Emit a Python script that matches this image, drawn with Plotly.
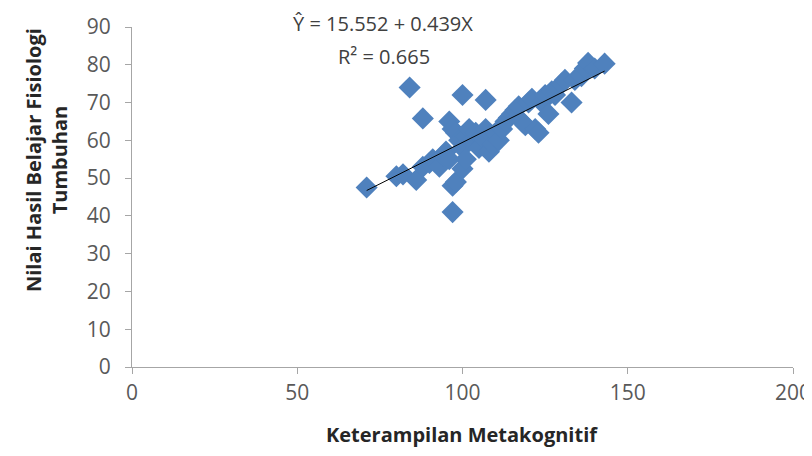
import plotly.graph_objects as go

x_vals = [71, 80, 82, 86, 88, 90, 91, 93, 94, 95, 96, 97, 97, 98, 96, 97, 98, 99, 100, 100,
          101, 101, 102, 103, 104, 105, 106, 107, 108, 109, 110, 111, 112, 113, 114, 115, 116,
          117, 118, 119, 120, 121, 122, 123, 124, 125, 126, 127, 128, 130, 131, 133, 134, 136,
          137, 138, 140, 143, 84, 88, 100, 107]
y_vals = [47.5, 50.5, 51, 49.5, 53, 54, 55, 53, 56, 57, 55, 48, 41, 49, 65, 63, 62, 60, 58, 52.5,
          55, 61, 63, 60, 62, 58, 61, 63, 57, 59, 62, 60, 63, 65, 66, 67, 68,
          69, 65, 64, 70, 71, 63, 62, 70, 72, 67, 73, 72, 75, 76, 70, 76, 77,
          79, 80.5, 79, 80.3, 74, 65.8, 72, 70.7]

intercept = 15.552
slope = 0.439
x_line = [min(x_vals), max(x_vals)]
y_line = [intercept + slope * v for v in x_line]

x_ticks = [0, 50, 100, 150, 200]
y_ticks = [0, 10, 20, 30, 40, 50, 60, 70, 80, 90]

FONT = "Open Sans"

fig = go.Figure()
fig.add_trace(go.Scatter(x=x_vals, y=y_vals, mode="markers",
                         marker=dict(symbol="diamond", size=17, color="#4F81BD",
                                     line=dict(width=0)),
                         showlegend=False))
fig.add_trace(go.Scatter(x=x_line, y=y_line, mode="lines",
                         line=dict(color="#000000", width=1), showlegend=False))

axis_common = dict(showgrid=False, zeroline=False, showline=True, linecolor="#A6A6A6",
                   linewidth=1, ticks="outside", tickcolor="#A6A6A6", ticklen=6,
                   automargin=False, ticklabeloverflow="allow",
                   tickfont=dict(family=FONT, size=21, color="#595959"))
fig.update_xaxes(range=[0, 200], tickvals=x_ticks, ticklabelstandoff=1, **axis_common)
fig.update_yaxes(range=[0, 90], tickvals=y_ticks, ticklabelstandoff=10, **axis_common)

PW = 661.0
PH = 340.0
X0 = 132.0
Y0 = 367.0


def px(xp):
    return (xp - X0) / PW


def py(yp):
    return (Y0 - yp) / PH


# axis titles
fig.add_annotation(xref="paper", yref="paper", x=px(462), y=py(434),
                   xanchor="center", yanchor="middle",
                   text="<b>Keterampilan Metakognitif</b>", showarrow=False,
                   font=dict(family=FONT, size=20, color="#262626"))
fig.add_annotation(xref="paper", yref="paper", x=px(46), y=py(160),
                   xanchor="center", yanchor="middle",
                   text="<b>Nilai Hasil Belajar Fisiologi<br>Tumbuhan</b>", showarrow=False,
                   textangle=-90,
                   font=dict(family=FONT, size=20, color="#262626"))

# regression equation labels
fig.add_annotation(xref="paper", yref="paper", x=px(383), y=py(23),
                   xanchor="center", yanchor="middle",
                   text="Ŷ = 15.552 + 0.439X", showarrow=False,
                   font=dict(family=FONT, size=20, color="#404040"))
fig.add_annotation(xref="paper", yref="paper", x=px(384), y=py(56),
                   xanchor="center", yanchor="middle",
                   text="R² = 0.665", showarrow=False,
                   font=dict(family=FONT, size=20, color="#404040"))

# page body adds an 8px offset; place the plot area at 132..793 x 27..367 in the window
fig.update_layout(width=804, height=440,
                  margin=dict(l=124, r=19, t=19, b=81, autoexpand=False),
                  plot_bgcolor="white", paper_bgcolor="white")
fig.write_html("out.html")
